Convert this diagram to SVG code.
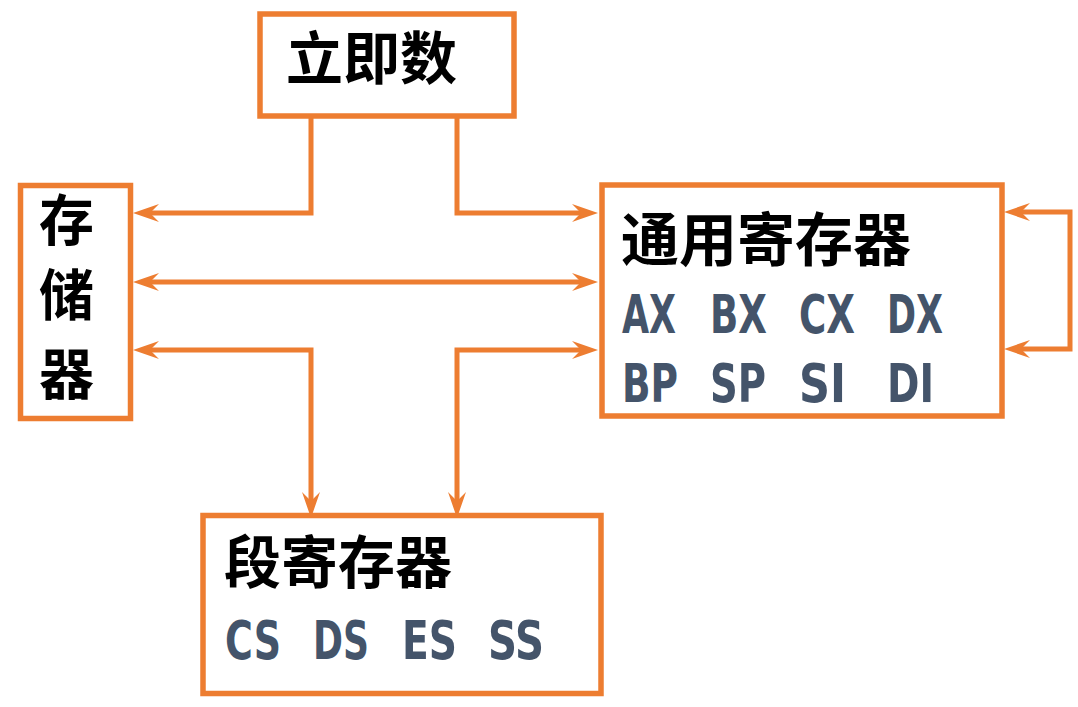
<svg xmlns="http://www.w3.org/2000/svg" width="1078" height="707" viewBox="0 0 1078 707">
<style>
.box{fill:#fff;stroke:#ED7D31;stroke-width:5.5}
.ln{fill:none;stroke:#ED7D31;stroke-width:5}
.t{font-family:"Noto Sans CJK SC","Noto Sans",sans-serif;font-weight:bold;fill:#000}
.r{font-family:"DejaVu Sans Condensed","DejaVu Sans",sans-serif;font-weight:bold;fill:#44546A;font-size:54px}
</style>
<defs>
<marker id="ah" markerUnits="userSpaceOnUse" markerWidth="30" markerHeight="20" refX="16" refY="10" orient="auto-start-reverse" overflow="visible">
<path d="M26,10 L0,1 L9,10 L0,19 Z" fill="#ED7D31"/>
</marker>
</defs>
<rect width="1078" height="707" fill="#fff"/>
<g id="connectors">
<path class="ln" d="M311,116 V213 H143" marker-end="url(#ah)"/>
<path class="ln" d="M457,116 V213 H588" marker-end="url(#ah)"/>
<path class="ln" d="M143,282 H588" marker-start="url(#ah)" marker-end="url(#ah)"/>
<path class="ln" d="M143,350 H311 V508" marker-start="url(#ah)" marker-end="url(#ah)"/>
<path class="ln" d="M588,350 H457 V508" marker-start="url(#ah)" marker-end="url(#ah)"/>
<path class="ln" d="M1014,212 H1070 V349 H1014" marker-start="url(#ah)" marker-end="url(#ah)"/>
</g>
<g id="imm">
<rect class="box" x="260" y="14" width="254" height="102"/>
<text class="t" x="286" y="79" font-size="57">立即数</text>
</g>
<g id="mem">
<rect class="box" x="20.5" y="185.5" width="110" height="233"/>
<text class="t" x="39" y="240" font-size="55">存</text>
<text class="t" x="39" y="315" font-size="55">储</text>
<text class="t" x="39" y="394" font-size="55">器</text>
</g>
<g id="gpr">
<rect class="box" x="602" y="185" width="400" height="231"/>
<text class="t" x="621" y="261" font-size="58">通用寄存器</text>
<text class="r" x="622" y="333" textLength="54" lengthAdjust="spacingAndGlyphs">AX</text>
<text class="r" x="710" y="333" textLength="57" lengthAdjust="spacingAndGlyphs">BX</text>
<text class="r" x="799" y="333" textLength="56" lengthAdjust="spacingAndGlyphs">CX</text>
<text class="r" x="887" y="333" textLength="56" lengthAdjust="spacingAndGlyphs">DX</text>
<text class="r" x="622" y="402" textLength="56" lengthAdjust="spacingAndGlyphs">BP</text>
<text class="r" x="710" y="402" textLength="56" lengthAdjust="spacingAndGlyphs">SP</text>
<text class="r" x="799" y="402" textLength="47" lengthAdjust="spacingAndGlyphs">SI</text>
<text class="r" x="887" y="402" textLength="47" lengthAdjust="spacingAndGlyphs">DI</text>
</g>
<g id="seg">
<rect class="box" x="203" y="515.5" width="398" height="178"/>
<text class="t" x="224" y="583" font-size="57">段寄存器</text>
<text class="r" x="225" y="659" textLength="56" lengthAdjust="spacingAndGlyphs">CS</text>
<text class="r" x="313" y="659" textLength="56" lengthAdjust="spacingAndGlyphs">DS</text>
<text class="r" x="402" y="659" textLength="55" lengthAdjust="spacingAndGlyphs">ES</text>
<text class="r" x="488" y="659" textLength="56" lengthAdjust="spacingAndGlyphs">SS</text>
</g>
</svg>
